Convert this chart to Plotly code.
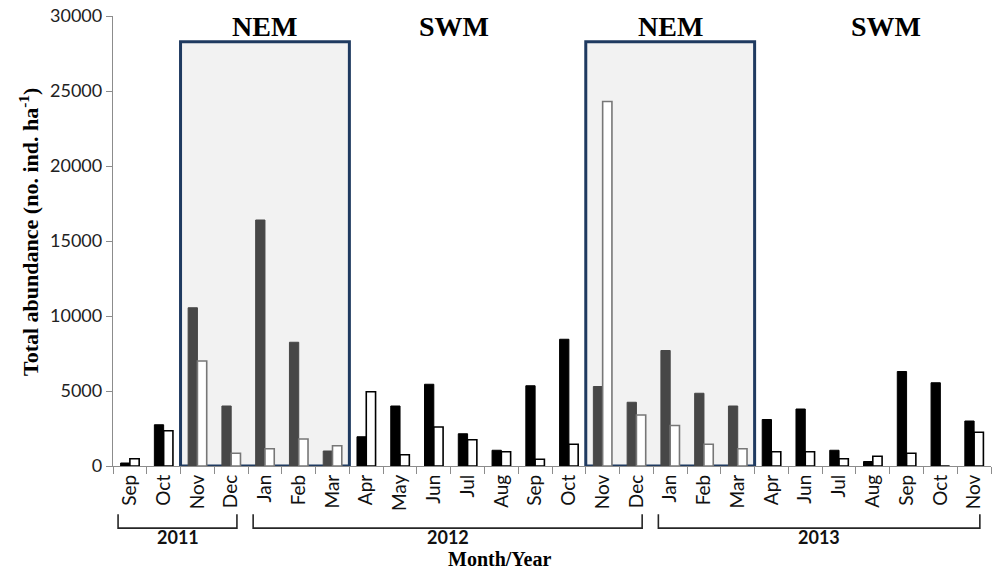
import plotly.graph_objects as go

# Monthly sampling, Sep 2011 - Nov 2013
months = ["Sep", "Oct", "Nov", "Dec",
          "Jan", "Feb", "Mar", "Apr", "May", "Jun", "Jul", "Aug", "Sep", "Oct", "Nov", "Dec",
          "Jan", "Feb", "Mar", "Apr", "Jun", "Jul", "Aug", "Sep", "Oct", "Nov"]
years = ["2011"] * 4 + ["2012"] * 12 + ["2013"] * 10
categories = [f"{m} {y}" for m, y in zip(months, years)]

# Total abundance (no. ind. ha^-1), two series per month
series_a = [200, 2750, 10550, 4000,
            16400, 8250, 1000, 1950, 4000, 5450, 2150, 1050, 5350, 8450, 5300, 4250,
            7700, 4850, 4000, 3100, 3800, 1050, 300, 6300, 5550, 3000]
series_b = [480, 2350, 7000, 850,
            1150, 1800, 1350, 4950, 750, 2600, 1750, 950, 450, 1450, 24300, 3400,
            2700, 1450, 1150, 950, 950, 480, 650, 850, 0, 2250]

# Monsoon periods (inclusive category index ranges)
nem_periods = [(2, 6), (14, 18)]
season_labels = [("NEM", 4.0), ("SWM", 9.6), ("NEM", 16.0), ("SWM", 22.4)]
year_spans = [("2011", 0, 3), ("2012", 4, 15), ("2013", 16, 25)]

in_nem = [any(a <= i <= b for a, b in nem_periods) for i in range(len(categories))]
fill_a = ["#474747" if n else "#000000" for n in in_nem]
edge_b = ["#777777" if n else "#000000" for n in in_nem]

fig = go.Figure()
fig.add_trace(go.Bar(x=categories, y=series_a, marker=dict(color=fill_a, line=dict(color=fill_a, width=1)),
                     showlegend=False))
fig.add_trace(go.Bar(x=categories, y=series_b, marker=dict(color="#ffffff", line=dict(color=edge_b, width=1.6)),
                     showlegend=False))

serif = "Liberation Serif, Times New Roman, serif"
sans = "Lato, Open Sans, sans-serif"

shapes = []
for a, b in nem_periods:
    shapes.append(dict(type="rect", xref="x", yref="y", x0=a - 0.5, x1=b + 0.5, y0=0, y1=28280,
                       fillcolor="#f2f2f2", line=dict(color="#1f3a60", width=3), layer="below"))

annotations = []
for text, xc in season_labels:
    annotations.append(dict(text=f"<b>{text}</b>", x=xc, xref="x", y=0.976, yref="paper",
                            xanchor="center", yanchor="middle", showarrow=False,
                            font=dict(family=serif, size=28, color="#000000")))

bracket_top, bracket_bot = -0.107, -0.138
for text, a, b in year_spans:
    x0, x1 = a - 0.35, b + 0.17
    path = f"M {x0},{bracket_top} L {x0},{bracket_bot} L {x1},{bracket_bot} L {x1},{bracket_top}"
    shapes.append(dict(type="path", xref="x", yref="paper", path=path,
                       line=dict(color="#262626", width=1.6)))
    annotations.append(dict(text=f"<b>{text}</b>", x=(x0 + x1) / 2, xref="x", y=-0.158, yref="paper",
                            xanchor="center", yanchor="middle", showarrow=False,
                            font=dict(family=sans, size=18, color="#111111")))

annotations.append(dict(text="<b>Month/Year</b>", x=0.44, xref="paper", y=-0.207, yref="paper",
                        xanchor="center", yanchor="middle", showarrow=False,
                        font=dict(family=serif, size=20, color="#000000")))
annotations.append(dict(text="<b>Total abundance (no. ind. ha<sup>-1</sup>)</b>", textangle=-90,
                        x=-0.0957, xref="paper", y=0.52, yref="paper", xanchor="center", yanchor="middle",
                        showarrow=False, font=dict(family=serif, size=22, color="#000000")))

fig.update_layout(
    width=993, height=573,
    margin=dict(l=113, r=2, t=16, b=107),
    plot_bgcolor="#ffffff", paper_bgcolor="#ffffff",
    barmode="group", bargap=0.45, bargroupgap=0,
    shapes=shapes, annotations=annotations,
    xaxis=dict(type="category", tickvals=categories, ticktext=months, tickson="boundaries",
               tickangle=-90, ticks="outside", ticklen=7, tickcolor="#8c8c8c", tickwidth=1.3,
               showline=True, linecolor="#8c8c8c", linewidth=1.3, showgrid=False,
               tickfont=dict(family=sans, size=19, color="#111111"), range=[-0.5, len(categories) - 0.5]),
    yaxis=dict(range=[0, 30000], tickvals=[0, 5000, 10000, 15000, 20000, 25000, 30000], tickformat="d",
               ticks="outside", ticklen=6, tickcolor="#8c8c8c", tickwidth=1.3, showline=True,
               linecolor="#8c8c8c", linewidth=1.3, showgrid=False, zeroline=False,
               tickfont=dict(family=sans, size=18, color="#222222")),
)

fig.write_html("out.html")
